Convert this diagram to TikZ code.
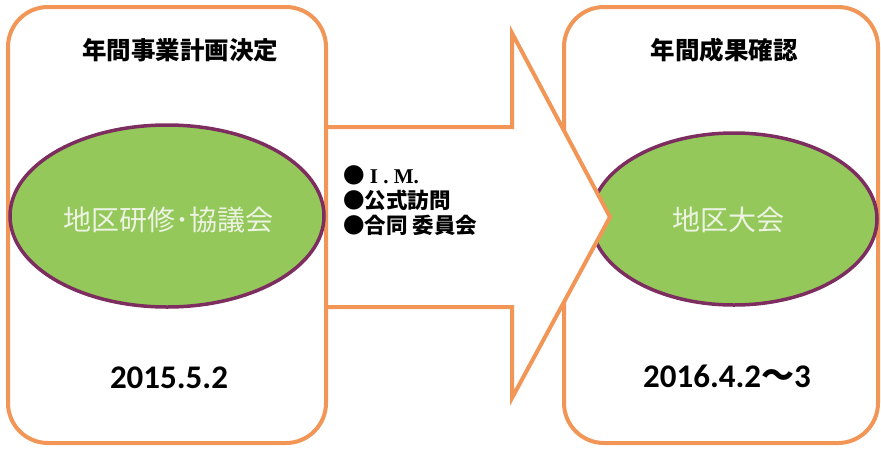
\documentclass[tikz,border=0pt]{standalone}
\usepackage{fontspec}
\setmainfont{Carlito}
\newfontfamily\jp{Noto Sans CJK JP}
\newfontfamily\serifb{Liberation Serif}
\usetikzlibrary{shapes.geometric}
\definecolor{orng}{RGB}{241,150,86}
\definecolor{grn}{RGB}{148,200,90}
\definecolor{purp}{RGB}{125,45,95}
\definecolor{pale}{RGB}{236,243,226}
\tikzset{
  box/.style={draw=orng, line width=4pt, rounded corners=40pt, fill=white, inner sep=0pt},
  oval/.style={ellipse, draw=purp, fill=grn, line width=3.5pt, inner sep=0pt},
  ovaltext/.style={text=pale, font=\jp\fontsize{28}{30}\selectfont},
  title/.style={font=\jp\bfseries\fontsize{24.5}{28}\selectfont, text=black},
  datetext/.style={font=\bfseries\fontsize{33}{36}\selectfont, text=black},
  arrowshape/.style={draw=orng, line width=4pt, fill=white, line join=miter},
  bullets/.style={font=\jp\bfseries\fontsize{21.5}{25}\selectfont, align=left, anchor=west, inner sep=0pt}
}
\begin{document}
\begin{tikzpicture}[x=1pt,y=-1pt]
\useasboundingbox[fill=white] (0,0) rectangle (881,448);
% right box and oval
\node[box, minimum width=314pt, minimum height=436pt] (R) at (721,225) {};
\node[oval, minimum width=286pt, minimum height=172pt] (RO) at (734,219) {};
\node[ovaltext] (ROt) at (728,220) {地区大会};
% arrow
\coordinate (a1) at (326,127);
\coordinate (a2) at (512,127);
\coordinate (a3) at (512,33);
\coordinate (tip) at (610,217);
\coordinate (a5) at (512,398);
\coordinate (a6) at (512,307);
\coordinate (a7) at (326,307);
\path[arrowshape] (a1) -- (a2) -- (a3) -- (tip) -- (a5) -- (a6) -- (a7);
% left box and oval
\node[box, minimum width=318pt, minimum height=436pt] (L) at (167,225) {};
\node[oval, minimum width=314pt, minimum height=182pt] (LO) at (167,216) {};
\node[ovaltext] (LOt) at (168,220) {地区研修･協議会};
% titles and dates
\node[title] (LT) at (180,50) {年間事業計画決定};
\node[title] (RT) at (724,50) {年間成果確認};
\node[datetext] (LD) at (169,378) {2015.5.2};
\node[datetext] (RD) at (727,376) {2016.4.2{\jp\bfseries ～}3};
% bullet list
\node[bullets] (B1) at (343,175) {{\jp ●}{\serifb\bfseries\fontsize{21}{25}\selectfont\ I . M.}};
\node[bullets] (B2) at (343,200) {●公式訪問};
\node[bullets] (B3) at (343,225) {●合同 委員会};
\end{tikzpicture}
\end{document}
